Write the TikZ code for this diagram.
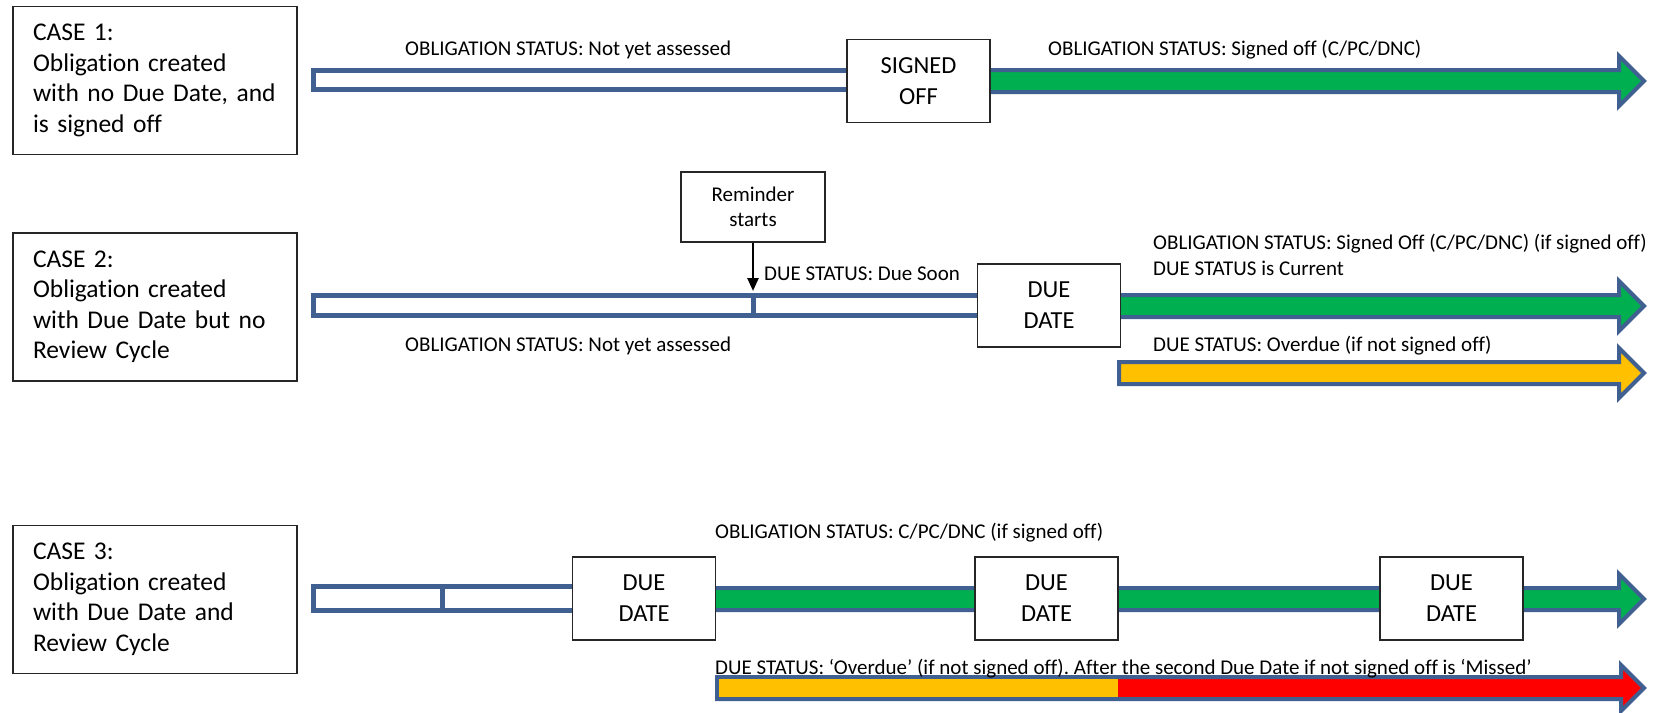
\documentclass[tikz,border=0pt]{standalone}
\usepackage{fontspec}
\setmainfont{Carlito}[Ligatures=NoCommon]
\usepackage{tikz}
\usetikzlibrary{arrows.meta, positioning}
\frenchspacing

\definecolor{barblue}{RGB}{64,96,145}
\definecolor{boxline}{RGB}{38,38,38}
\definecolor{okgreen}{RGB}{0,176,80}
\definecolor{dueyellow}{RGB}{255,192,0}
\definecolor{missedred}{RGB}{255,0,0}

\begin{document}
\begin{tikzpicture}[x=1pt,y=-1pt]
    \tikzstyle{casebox}=[draw=boxline, line width=1.8, fill=white, minimum width=284, minimum height=148, text width=244, inner xsep=20, align=left, font=\fontsize{25.5}{30.5}\selectfont];
    \tikzstyle{datebox}=[draw=boxline, line width=1.8, fill=white, minimum width=143, minimum height=83, align=center, font=\fontsize{24.5}{31}\selectfont];
    \tikzstyle{remindbox}=[draw=boxline, line width=1.8, fill=white, minimum width=144, minimum height=70, align=center, font=\fontsize{21}{25}\selectfont];
    \tikzstyle{status}=[inner sep=0, anchor=base west, font=\fontsize{21}{25}\selectfont];
    \tikzstyle{hollowbar}=[draw=barblue, line width=5, fill=white];
    \tikzstyle{blockarrow}=[draw=barblue, line width=4, line join=miter];

    \useasboundingbox (0,0) rectangle (1659,712);

    % green status arrows, boxes are drawn over their left ends
    \foreach \xs/\yc in {918/81, 1049/306, 644/599} {
        \draw[blockarrow, fill=okgreen] (\xs,\yc-11) -- (1619,\yc-11) -- (1619,\yc-25) -- (1644,\yc) -- (1619,\yc+25) -- (1619,\yc+11) -- (\xs,\yc+11) -- cycle;
    }
    % overdue arrow (case 2)
    \draw[blockarrow, fill=dueyellow] (1119,362) -- (1619,362) -- (1619,348) -- (1644,373) -- (1619,398) -- (1619,384) -- (1119,384) -- cycle;
    % overdue / missed arrow (case 3)
    \draw[blockarrow, fill=missedred] (717,677) -- (1621,677) -- (1621,665) -- (1644,688) -- (1621,711) -- (1621,699) -- (717,699) -- cycle;
    \fill[dueyellow] (719,679) rectangle (1118,697);

    % not yet assessed bars
    \draw[hollowbar] (313.5,70.5) rectangle (918,89.5);
    \draw[hollowbar] (313.5,295.5) rectangle (1049,315.5);
    \draw[hollowbar] (313.5,586.5) rectangle (644,610.5);
    \draw[barblue, line width=5] (753,295.5) -- (753,315.5);
    \draw[barblue, line width=5] (442,586.5) -- (442,610.5);
    \coordinate (soon) at (753,291);

    \node[casebox] (case1) at (155,80.5) {CASE 1:\\Obligation created\\with no Due Date, and\\is signed off};
    \node[casebox] (case2) at (155,307) {CASE 2:\\Obligation created\\with Due Date but no\\Review Cycle};
    \node[casebox] (case3) at (155,599.5) {CASE 3:\\Obligation created\\with Due Date and\\Review Cycle};

    \node[datebox] (signed) at (918.5,81) {SIGNED\\OFF};
    \node[datebox] (due2) at (1049,305.5) {DUE\\DATE};
    \node[datebox] (due3a) at (644,598.5) {DUE\\DATE};
    \node[datebox] (due3b) at (1046.5,598.5) {DUE\\DATE};
    \node[datebox] (due3c) at (1451.5,598.5) {DUE\\DATE};

    \node[remindbox] (remind) at (753,207) {Reminder\\starts};
    \draw[line width=2.5, -{Triangle[width=11pt,length=13pt]}] (remind) -- (soon);

    \node[status] (st1a) at (405,55) {OBLIGATION STATUS: Not yet assessed};
    \node[status] (st1b) at (1048,55) {OBLIGATION STATUS: Signed off (C/PC/DNC)};
    \node[status] (st2soon) at (764,280) {DUE STATUS: Due Soon};
    \node[status] (st2a) at (405,351) {OBLIGATION STATUS: Not yet assessed};
    \node[status] (st2b) at (1153,249) {OBLIGATION STATUS: Signed Off (C/PC/DNC) (if signed off)};
    \node[status] (st2c) at (1153,275) {DUE STATUS is Current};
    \node[status] (st2d) at (1153,351) {DUE STATUS: Overdue (if not signed off)};
    \node[status] (st3a) at (715,538) {OBLIGATION STATUS: C/PC/DNC (if signed off)};
    \node[status] (st3b) at (715,674) {DUE STATUS: ‘Overdue’ (if not signed off). After the second Due Date if not signed off is ‘Missed’};
\end{tikzpicture}
\end{document}
